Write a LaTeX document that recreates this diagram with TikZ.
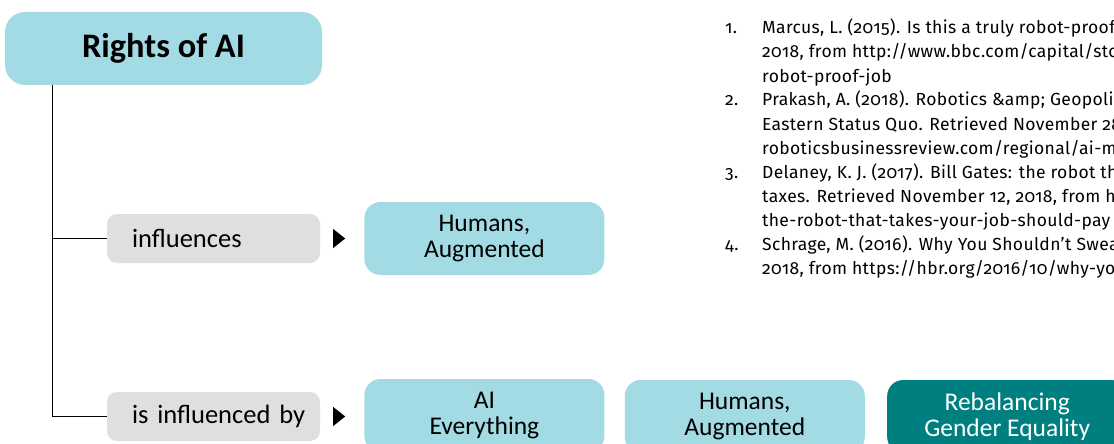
\documentclass[tikz,border=0pt]{standalone}
\usepackage{fontspec}
\setmainfont{Carlito}
\newfontfamily\reffont{Fira Sans}[Numbers=OldStyle,LetterSpace=2.0]
\usetikzlibrary{positioning}

\definecolor{topicblue}{RGB}{163,219,228}
\definecolor{relgray}{RGB}{222,223,225}
\definecolor{topicteal}{RGB}{0,127,128}

\tikzset{
  topic/.style={fill=topicblue,rounded corners=16pt,minimum width=240pt,
    minimum height=73pt,inner sep=0pt,align=center,
    font=\fontsize{25.5}{26}\selectfont},
  reltag/.style={fill=relgray,rounded corners=10pt,text width=213pt,
    minimum height=49pt,inner sep=0pt,align=left,
    execute at begin node={\hspace*{25pt}},
    font=\fontsize{26.5}{28}\selectfont},
  trunk/.style={line width=1.2pt},
  refnum/.style={anchor=base west,inner sep=0pt,font=\reffont\fontsize{17.5}{24}\selectfont},
  reftext/.style={anchor=base west,inner sep=0pt,font=\reffont\fontsize{17.5}{24}\selectfont}
}

\begin{document}
\begin{tikzpicture}[x=1pt,y=-1pt]
\useasboundingbox (0,0) rectangle (1114,444);
\clip (0,0) rectangle (1114,444);

% main topic
\node[topic,minimum width=317pt,rounded corners=20pt,
  font=\bfseries\fontsize{34.4}{36}\selectfont] (rights) at (163.5,48.5) {Rights of AI};

% relations
\node[reltag] (infl) at (213.5,238.5) {influences};
\node[reltag] (isby) at (213.5,416.5) {is influenced by};

\coordinate (stem) at (52.5,0);
\draw[trunk] (stem |- rights.south) |- (isby.west);
\draw[trunk] (stem |- infl.west) -- (infl.west);

\fill (infl.east) ++(13,-9.5) -- ++(12,9.5) -- ++(-12,9.5) -- cycle;
\fill (isby.east) ++(13,-9.5) -- ++(12,9.5) -- ++(-12,9.5) -- cycle;

% linked topics
\node[topic,right=44pt of infl] (humansA) {Humans,\\Augmented};
\node[topic,right=44pt of isby,yshift=1pt] (aiall) {AI\\Everything};
\node[topic,right=20pt of aiall,yshift=-1pt] (humansB) {Humans,\\Augmented};
\node[topic,right=22pt of humansB,fill=topicteal,text=white] (gender) {Rebalancing\\Gender Equality};

% references
\node[refnum] (n1) at (725,34) {1.};
\node[reftext] (r1a) at (762,34) {Marcus, L. (2015). Is this a truly robot-proof};
\node[reftext] (r1b) at (762,58) {2018, from http://www.bbc.com/capital/story};
\node[reftext] (r1c) at (762,82) {robot-proof-job};
\node[refnum] (n2) at (725,106) {2.};
\node[reftext] (r2a) at (762,106) {Prakash, A. (2018). Robotics \&amp; Geopolitics};
\node[reftext] (r2b) at (762,130) {Eastern Status Quo. Retrieved November 28};
\node[reftext] (r2c) at (762,154) {roboticsbusinessreview.com/regional/ai-m};
\node[refnum] (n3) at (725,178) {3.};
\node[reftext] (r3a) at (762,178) {Delaney, K. J. (2017). Bill Gates: the robot that};
\node[reftext] (r3b) at (762,202) {taxes. Retrieved November 12, 2018, from http};
\node[reftext] (r3c) at (762,226) {the-robot-that-takes-your-job-should-pay};
\node[refnum] (n4) at (725,250) {4.};
\node[reftext] (r4a) at (762,250) {Schrage, M. (2016). Why You Shouldn’t Sweat};
\node[reftext] (r4b) at (762,274) {2018, from https://hbr.org/2016/10/why-you};
\end{tikzpicture}
\end{document}
